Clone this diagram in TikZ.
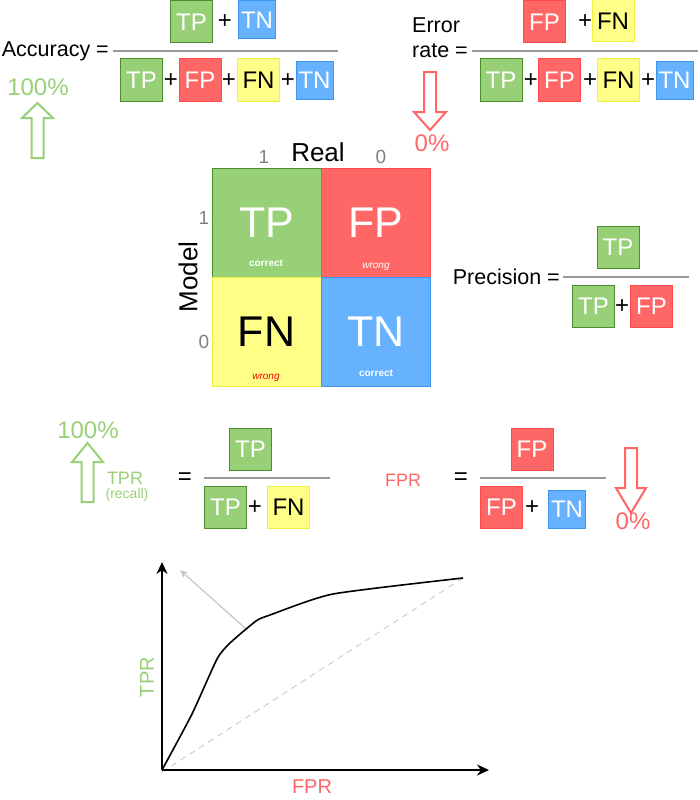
\documentclass[tikz,border=0pt]{standalone}
\usepackage{fontspec}
\setmainfont{Liberation Sans}
\usepackage{tikz}
\usetikzlibrary{arrows.meta}

\definecolor{gfill}{HTML}{97D077}
\definecolor{gline}{HTML}{4A8F2C}
\definecolor{rfill}{HTML}{FF6666}
\definecolor{rline}{HTML}{FF4A4A}
\definecolor{yfill}{HTML}{FFFF88}
\definecolor{yline}{HTML}{F0F040}
\definecolor{bfill}{HTML}{66B2FF}
\definecolor{bline}{HTML}{3C96F0}
\definecolor{fline}{HTML}{999999}

\tikzset{
	box/.style={draw, line width=1pt, minimum width=42, minimum height=42, inner sep=0pt, font=\fontsize{24}{24}\selectfont},
	tpbox/.style={box, fill=gfill, draw=gline, text=white},
	fpbox/.style={box, fill=rfill, draw=rline, text=white},
	fnbox/.style={box, fill=yfill, draw=yline, text=black},
	tnbox/.style={box, fill=bfill, draw=bline, text=white, minimum width=37, minimum height=38},
	plus/.style={inner sep=0pt, font=\fontsize{24}{24}\selectfont},
	lbl/.style={inner sep=1pt, font=\fontsize{21.5}{25}\selectfont},
	fracline/.style={draw=fline, line width=2pt},
	cell/.style={draw, line width=1pt, minimum width=109, minimum height=109, inner sep=0pt, font=\fontsize{43}{43}\selectfont},
	tag/.style={inner sep=0pt, font=\fontsize{10}{10}\selectfont},
	pct/.style={inner sep=0pt, font=\fontsize{24}{24}\selectfont},
	garrow/.style={draw=gfill, line width=2pt, fill=white, line join=miter},
	rarrow/.style={draw=rfill, line width=2pt, fill=white, line join=miter}
}

\begin{document}
\begin{tikzpicture}[x=1pt, y=-1pt]
	\useasboundingbox (0,0) rectangle (700,800);

	% accuracy
	\node[lbl, anchor=east] (acc) at (110,51) {Accuracy =};
	\coordinate (al) at (113,51);
	\coordinate (ar) at (338,51);
	\draw[fracline] (al) -- (ar);
	\node[tpbox] (a1) at (191.5,22) {TP};
	\node[plus] (ap1) at (225,22) {+};
	\node[tnbox] (a2) at (257,20) {TN};
	\node[tpbox] (a3) at (141.5,80) {TP};
	\node[plus] (ap2) at (171,81) {+};
	\node[fpbox] (a4) at (200,80) {FP};
	\node[plus] (ap3) at (229,81) {+};
	\node[fnbox] (a5) at (258.5,80) {FN};
	\node[plus] (ap4) at (288,81) {+};
	\node[tnbox] (a6) at (314.5,80.5) {TN};
	\node[pct, text=gfill] (acc100) at (38,87) {100\%};
	\draw[garrow] (37.5,103) -- (53,118) -- (43.5,118) -- (43.5,158) -- (31.5,158) -- (31.5,118) -- (22,118) -- cycle;

	% error rate
	\node[lbl, align=left, anchor=east] (err) at (469,38) {Error\\rate =};
	\coordinate (el) at (472,51);
	\coordinate (er) at (698,51);
	\draw[fracline] (el) -- (er);
	\node[fpbox] (e1) at (544.5,22) {FP};
	\node[plus] (ep1) at (585,22) {+};
	\node[fnbox] (e2) at (613,21) {FN};
	\node[tpbox] (e3) at (501,80) {TP};
	\node[plus] (ep2) at (531,81) {+};
	\node[fpbox] (e4) at (559.5,80) {FP};
	\node[plus] (ep3) at (590,81) {+};
	\node[fnbox] (e5) at (618.5,80) {FN};
	\node[plus] (ep4) at (648,81) {+};
	\node[tnbox] (e6) at (674.5,80.5) {TN};
	\draw[rarrow] (424,72) -- (436,72) -- (436,112) -- (446,112) -- (430,130) -- (414,112) -- (424,112) -- cycle;
	\node[pct, text=rfill] (err0) at (432,143) {0\%};

	% confusion matrix
	\node[cell, fill=gfill, draw=gline, text=white] (tp) at (266.5,222.5) {TP};
	\node[cell, fill=rfill, draw=rline, text=white] (fp) at (376,222.5) {FP};
	\node[cell, fill=yfill, draw=yline, text=black] (fn) at (266.5,331.5) {FN};
	\node[cell, fill=bfill, draw=bline, text=white] (tn) at (376,331.5) {TN};
	\node[tag, text=white, font=\fontsize{10}{10}\selectfont\bfseries] (tpc) at (266,263) {correct};
	\node[tag, text=white, font=\fontsize{10}{10}\selectfont\itshape] (fpw) at (376,267) {wrong};
	\node[tag, text=red, font=\fontsize{10}{10}\selectfont\itshape] (fnw) at (266,378) {wrong};
	\node[tag, text=white, font=\fontsize{10}{10}\selectfont\bfseries] (tnc) at (376,373) {correct};
	\node[inner sep=0pt, font=\fontsize{26}{26}\selectfont] (real) at (318,152) {Real};
	\node[inner sep=0pt, font=\fontsize{26}{26}\selectfont, rotate=90] (model) at (188,277) {Model};
	\begin{scope}[every node/.style={inner sep=0pt, text=gray, font=\fontsize{19}{19}\selectfont}]
		\node (r1) at (264,157) {1};
		\node (r0) at (381,157) {0};
		\node (m1) at (204,218) {1};
		\node (m0) at (204,342) {0};
	\end{scope}

	% precision
	\node[lbl, anchor=east] (prec) at (561,277) {Precision =};
	\coordinate (pl) at (563,277);
	\coordinate (pr) at (689,277);
	\draw[fracline] (pl) -- (pr);
	\node[tpbox] (p1) at (618,247.5) {TP};
	\node[tpbox] (p2) at (593.5,306.5) {TP};
	\node[plus] (pp1) at (622,307) {+};
	\node[fpbox] (p3) at (651.5,306.5) {FP};

	% true positive rate
	\node[pct, text=gfill] (tpr100) at (88,430) {100\%};
	\draw[garrow] (87.5,443) -- (103,462) -- (93.5,462) -- (93.5,502) -- (81.5,502) -- (81.5,462) -- (72,462) -- cycle;
	\node[inner sep=0pt, text=gfill, font=\fontsize{18}{18}\selectfont] (tpr) at (125,478) {TPR};
	\node[inner sep=0pt, text=gfill, font=\fontsize{14}{14}\selectfont] (recall) at (127,495) {(recall)};
	\node[plus] (teq) at (185,479) {=};
	\coordinate (tl) at (204,478);
	\coordinate (tr) at (330,478);
	\draw[fracline] (tl) -- (tr);
	\node[tpbox] (t1) at (250.5,449) {TP};
	\node[tpbox] (t2) at (225.5,507.5) {TP};
	\node[plus] (tp1) at (255,508) {+};
	\node[fnbox] (t3) at (288.5,507) {FN};

	% false positive rate
	\node[inner sep=0pt, text=rfill, font=\fontsize{18}{18}\selectfont] (fpr) at (403,480) {FPR};
	\node[plus] (feq) at (461,479) {=};
	\coordinate (fl) at (480,478);
	\coordinate (fr) at (606,478);
	\draw[fracline] (fl) -- (fr);
	\node[fpbox] (f1) at (532,449) {FP};
	\node[fpbox] (f2) at (501.5,507.5) {FP};
	\node[plus] (fp1) at (532,508) {+};
	\node[tnbox] (f3) at (567,509.5) {TN};
	\draw[rarrow] (625,448) -- (637,448) -- (637,488) -- (646,488) -- (631,513) -- (616,488) -- (625,488) -- cycle;
	\node[pct, text=rfill] (fpr0) at (633,521) {0\%};

	% roc curve
	\coordinate (o) at (162,770);
	\coordinate (ytop) at (162,562);
	\coordinate (xend) at (489,770);
	\coordinate (d0) at (162,772);
	\coordinate (d1) at (463,578);
	\coordinate (g0) at (245,628);
	\coordinate (g1) at (180,570);
	\draw[dashed, draw=gray!40, line width=1pt, dash pattern=on 6pt off 5pt] (d0) -- (d1);
	\draw[draw=gray!45, line width=1.2pt, -{Stealth[length=8pt, width=7pt]}] (g0) -- (g1);
	\draw[line width=1.6pt, line join=round] plot[smooth, tension=0.35] coordinates {(162,770) (192,714) (217,659) (230,643) (256,621) (270,615) (333,594) (463,578)};
	\draw[line width=2.5pt, -{Stealth[length=12pt, width=11pt]}] (o) -- (ytop);
	\draw[line width=2.5pt, -{Stealth[length=12pt, width=11pt]}] (o) -- (xend);
	\node[inner sep=0pt, text=gfill, font=\fontsize{20}{20}\selectfont, rotate=90] (ylab) at (147,677) {TPR};
	\node[inner sep=0pt, text=rfill, font=\fontsize{20}{20}\selectfont] (xlab) at (312,787) {FPR};
\end{tikzpicture}
\end{document}
